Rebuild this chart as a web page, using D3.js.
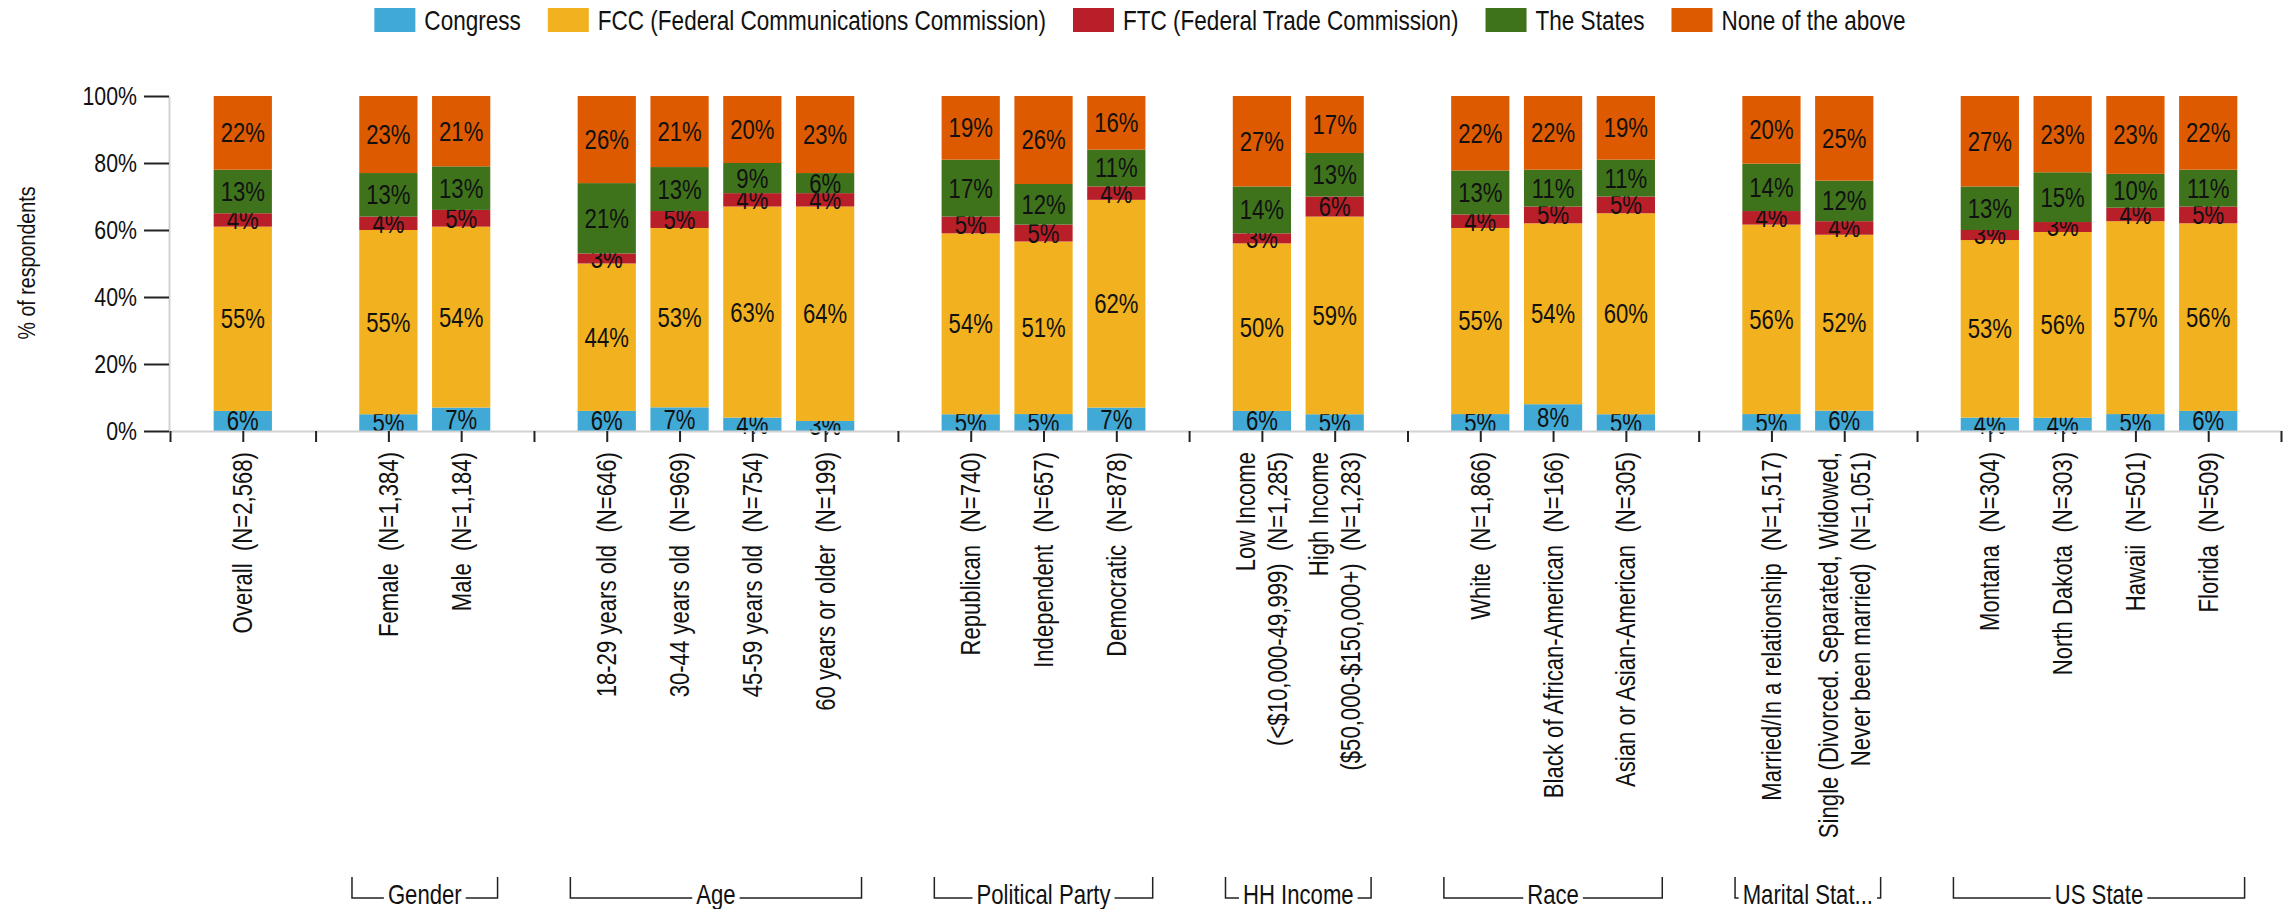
<!DOCTYPE html>
<html>
<head>
<meta charset="utf-8">
<script src="https://cdn.jsdelivr.net/npm/d3@7"></script>
<style>
  html, body { margin: 0; padding: 0; background: #fff; }
  svg text { font-family: "Liberation Sans", Arial, sans-serif; fill: #111; }
  .pre { white-space: pre; }
</style>
</head>
<body>
<svg id="chart" width="2285" height="909"></svg>
<script>
  'use strict';
  var NARROW = 0.82; // horizontal squeeze to imitate a narrow face

  var series = ['Congress', 'FCC (Federal Communications Commission)', 'FTC (Federal Trade Commission)', 'The States', 'None of the above'];
  var colors = ['#41a9d5', '#f2b11f', '#b81f28', '#3e731c', '#dd5a00'];

  var categories = [
    'Overall  (N=2,568)',
    'Female  (N=1,384)', 'Male  (N=1,184)',
    '18-29 years old  (N=646)', '30-44 years old  (N=969)', '45-59 years old  (N=754)', '60 years or older  (N=199)',
    'Republican  (N=740)', 'Independent  (N=657)', 'Democratic  (N=878)',
    'Low Income\n(<$10,000-49,999)  (N=1,285)', 'High Income\n($50,000-$150,000+)  (N=1,283)',
    'White  (N=1,866)', 'Black of African-American  (N=166)', 'Asian or Asian-American  (N=305)',
    'Married/In a relationship  (N=1,517)', 'Single (Divorced. Separated, Widowed,\nNever been married)  (N=1,051)',
    'Montana  (N=304)', 'North Dakota  (N=303)', 'Hawaii  (N=501)', 'Florida  (N=509)'
  ];
  var categoryGroup = ['', 'Gender', 'Gender', 'Age', 'Age', 'Age', 'Age',
    'Political Party', 'Political Party', 'Political Party', 'HH Income', 'HH Income',
    'Race', 'Race', 'Race', 'Marital Status', 'Marital Status',
    'US State', 'US State', 'US State', 'US State'];

  var congress  = [6, 5, 7, 6, 7, 4, 3, 5, 5, 7, 6, 5, 5, 8, 5, 5, 6, 4, 4, 5, 6];
  var fcc       = [55, 55, 54, 44, 53, 63, 64, 54, 51, 62, 50, 59, 55, 54, 60, 56, 52, 53, 56, 57, 56];
  var ftc       = [4, 4, 5, 3, 5, 4, 4, 5, 5, 4, 3, 6, 4, 5, 5, 4, 4, 3, 3, 4, 5];
  var theStates = [13, 13, 13, 21, 13, 9, 6, 17, 12, 11, 14, 13, 13, 11, 11, 14, 12, 13, 15, 10, 11];
  var noneAbove = [22, 23, 21, 26, 21, 20, 23, 19, 26, 16, 27, 17, 22, 22, 19, 20, 25, 27, 23, 23, 22];

  var yTicks = [0, 0.2, 0.4, 0.6, 0.8, 1];

  var svg = d3.select('#chart');

  // slot keys: a separator slot before every group change, plus start/end points
  var slots = ['start'];
  var slotOfCategory = [];
  categories.forEach(function(c, i) {
    if (i > 0 && categoryGroup[i] !== categoryGroup[i - 1]) {
      slots.push('sep' + i);
    }
    slots.push('cat' + i);
    slotOfCategory.push('cat' + i);
  });
  slots.push('end');

  var x = d3.scalePoint().domain(slots).range([170, 2281]);
  var y = d3.scaleLinear().domain([0, 1]).range([431, 96]);
  var barWidth = x.step() * 0.8;

  var rows = categories.map(function(c, i) {
    var r = { index: i };
    r[series[0]] = congress[i];
    r[series[1]] = fcc[i];
    r[series[2]] = ftc[i];
    r[series[3]] = theStates[i];
    r[series[4]] = noneAbove[i];
    return r;
  });

  var stacked = d3.stack().keys(series).offset(d3.stackOffsetExpand)(rows);

  var layers = svg.append('g').attr('class', 'bars')
    .selectAll('g')
    .data(stacked)
    .enter()
    .append('g')
    .attr('fill', function(d, i) { return colors[i]; });

  layers.selectAll('rect')
    .data(function(d) { return d; })
    .enter()
    .append('rect')
    .attr('x', function(d) { return x(slotOfCategory[d.data.index]) - barWidth / 2; })
    .attr('y', function(d) { return y(d[1]); })
    .attr('width', barWidth)
    .attr('height', function(d) { return y(d[0]) - y(d[1]); });

  // axes
  var yAxis = svg.append('g')
    .attr('transform', 'translate(169,0)')
    .call(d3.axisLeft(y).tickValues(yTicks).tickFormat(d3.format('.0%')).tickSize(25).tickSizeOuter(0));

  var xAxis = svg.append('g')
    .attr('transform', 'translate(0,431)')
    .call(d3.axisBottom(x).tickFormat('').tickSize(11).tickSizeOuter(0));

  [yAxis, xAxis].forEach(function(a) {
    a.select('.domain').attr('stroke', '#d2d2d2').attr('stroke-width', 2);
    a.selectAll('.tick line').attr('stroke', '#222').attr('stroke-width', 2);
  });
  yAxis.selectAll('.tick text')
    .attr('x', null)
    .attr('transform', 'translate(-32,0) scale(' + NARROW + ',1)')
    .attr('font-size', 26)
    .attr('font-family', null)
    .attr('fill', '#111');

  // value labels
  layers.selectAll('text')
    .data(function(d) { return d.map(function(p) { p.key = d.key; return p; }); })
    .enter()
    .append('text')
    .attr('transform', function(d) {
      var cx = x(slotOfCategory[d.data.index]);
      var cy = (y(d[0]) + y(d[1])) / 2;
      return 'translate(' + cx + ',' + cy + ') scale(' + NARROW + ',1)';
    })
    .attr('dy', '0.35em')
    .attr('text-anchor', 'middle')
    .attr('font-size', 27)
    .text(function(d) { return d.data[d.key] + '%'; });

  // rotated category labels
  var labelG = svg.append('g').attr('class', 'x-labels');
  categories.forEach(function(c, i) {
    var lines = c.split('\n');
    var cx = x(slotOfCategory[i]);
    var t = labelG.append('text')
      .attr('class', 'pre')
      .attr('transform', 'translate(' + cx + ',452) rotate(-90) scale(' + NARROW + ',1)')
      .attr('text-anchor', 'end')
      .attr('font-size', 27);
    lines.forEach(function(line, k) {
      t.append('tspan')
        .attr('x', 0)
        .attr('y', 0)
        .attr('dy', ((k - (lines.length - 1) / 2) * 1.18 + 0.35) + 'em')
        .text(line);
    });
  });

  // y title
  svg.append('text')
    .attr('transform', 'translate(27,263) rotate(-90) scale(' + NARROW + ',1)')
    .attr('text-anchor', 'middle')
    .attr('dy', '0.35em')
    .attr('font-size', 24)
    .text('% of respondents');

  // group brackets
  var groups = [];
  categoryGroup.forEach(function(g, i) {
    if (!g) return;
    var last = groups[groups.length - 1];
    if (last && last.name === g) {
      last.end = i;
    } else {
      groups.push({ name: g, start: i, end: i });
    }
  });

  var bracketTop = 877;
  var bracketY = 898;
  var groupG = svg.append('g').attr('class', 'groups');
  groups.forEach(function(g) {
    var x0 = x(slotOfCategory[g.start]) - x.step() / 2;
    var x1 = x(slotOfCategory[g.end]) + x.step() / 2;
    var mid = (x0 + x1) / 2;
    var label = groupG.append('text')
      .attr('transform', 'translate(' + mid + ',' + (bracketY - 3) + ') scale(' + NARROW + ',1)')
      .attr('dy', '0.35em')
      .attr('text-anchor', 'middle')
      .attr('font-size', 27)
      .text(g.name);
    var avail = x1 - x0 - 12;
    var txt = g.name;
    var w = function() { return label.node().getComputedTextLength() * NARROW; };
    while (txt.length > 1 && w() > avail) {
      txt = txt.slice(0, -1);
      label.text(txt.trim() + '...');
    }
    var tw = w();
    var path = d3.path();
    path.moveTo(x0, bracketTop);
    path.lineTo(x0, bracketY);
    path.lineTo(Math.max(x0, mid - tw / 2 - 4), bracketY);
    path.moveTo(Math.min(x1, mid + tw / 2 + 4), bracketY);
    path.lineTo(x1, bracketY);
    path.lineTo(x1, bracketTop);
    groupG.append('path')
      .attr('d', path.toString())
      .attr('fill', 'none')
      .attr('stroke', '#222')
      .attr('stroke-width', 1.5);
  });

  // legend, centred on the page
  var legend = svg.append('g').attr('class', 'legend');
  var SW = 41, SH = 24, GAP_TEXT = 9, GAP_ITEM = 27;
  var items = legend.selectAll('g').data(series).enter().append('g');
  items.append('rect')
    .attr('width', SW).attr('height', SH).attr('y', 8)
    .attr('fill', function(d, i) { return colors[i]; });
  items.append('text')
    .attr('transform', 'translate(' + (SW + GAP_TEXT) + ',20) scale(' + NARROW + ',1)')
    .attr('dy', '0.35em')
    .attr('font-size', 27.5)
    .text(function(d) { return d; });
  var widths = [];
  items.each(function() {
    var w = SW + GAP_TEXT + d3.select(this).select('text').node().getComputedTextLength() * NARROW;
    widths.push(w);
  });
  var total = d3.sum(widths) + GAP_ITEM * (widths.length - 1);
  var offset = 1140 - total / 2;
  items.attr('transform', function(d, i) {
    var tx = offset;
    offset += widths[i] + GAP_ITEM;
    return 'translate(' + tx + ',0)';
  });
</script>
</body>
</html>
